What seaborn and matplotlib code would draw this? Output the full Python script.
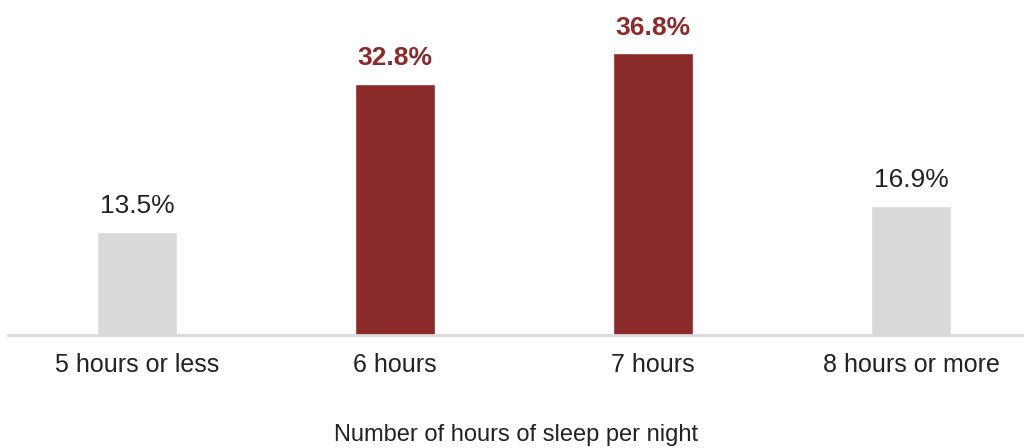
import matplotlib
matplotlib.use("Agg")
import matplotlib.pyplot as plt
import seaborn as sns
import pandas as pd

categories = ["5 hours or less", "6 hours", "7 hours", "8 hours or more"]
shares = [13.5, 32.8, 36.8, 16.9]
highlight = [False, True, True, False]
x_title = "Number of hours of sleep per night"

RED = "#8B2A2B"
GREY = "#D9D9D9"
TEXT = "#222222"

sns.set_theme(style="white")
plt.rcParams["font.family"] = ["Liberation Sans", "DejaVu Sans"]

df = pd.DataFrame({"category": categories, "share": shares})
palette = {c: (RED if h else GREY) for c, h in zip(categories, highlight)}

fig = plt.figure(figsize=(10.24, 4.48), dpi=100)
ax = fig.add_axes([8 / 1024, 113 / 448, 1016 / 1024, 306 / 448])

sns.barplot(data=df, x="category", y="share", hue="category", palette=palette,
            width=0.31, legend=False, ax=ax, saturation=1)

ax.set_ylim(0, 40)
ax.set_xlim(-0.5, -0.5 + 1016 / 258)

for i, (v, h) in enumerate(zip(shares, highlight)):
    ax.annotate(f"{v:.1f}%", (i, v), xytext=(0, 10), textcoords="offset points",
                ha="center", va="bottom", fontsize=19,
                color=RED if h else TEXT,
                fontweight="bold" if h else "normal")

for side in ["top", "right", "left"]:
    ax.spines[side].set_visible(False)
ax.spines["bottom"].set_color(GREY)
ax.spines["bottom"].set_linewidth(2)

ax.set_yticks([])
ax.set_ylabel("")
ax.tick_params(axis="x", length=0, pad=13, labelsize=18, labelcolor=TEXT)
ax.set_xlabel(x_title, fontsize=17, color=TEXT, labelpad=34)

fig.savefig("out.png", dpi=100)
